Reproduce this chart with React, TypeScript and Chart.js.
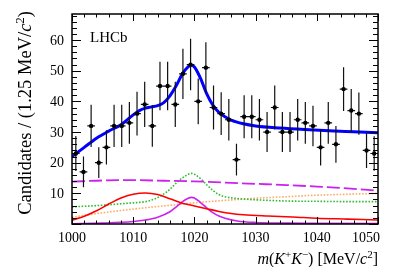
import React, { useEffect, useRef } from "react";
import { Chart, registerables } from "chart.js";

Chart.register(...registerables);

// ---------- data ----------
const binCenters = [
  1000.625, 1001.875, 1003.125, 1004.375, 1005.625, 1006.875, 1008.125, 1009.375,
  1010.625, 1011.875, 1013.125, 1014.375, 1015.625, 1016.875, 1018.125, 1019.375,
  1020.625, 1021.875, 1023.125, 1024.375, 1025.625, 1026.875, 1028.125, 1029.375,
  1030.625, 1031.875, 1033.125, 1034.375, 1035.625, 1036.875, 1038.125, 1039.375,
  1040.625, 1041.875, 1043.125, 1044.375, 1045.625, 1046.875, 1048.125, 1049.375,
];
const binHalfWidth = 0.625;
const counts = [
  23, 17, 32, 20, 25, 32, 32, 33, 36, 39, 32, 45, 45, 39, 49, 52, 40, 51, 38, 36,
  34, 21, 35, 35, 34, 30, 38, 30, 30, 34, 33, 32, 25, 33, 26, 44, 37, 36, 24, 23,
];
const countErrors = [
  5.7, 5.0, 6.9, 5.0, 5.6, 6.9, 6.9, 6.8, 7.1, 7.4, 6.8, 7.9, 7.9, 7.4, 8.2, 8.4, 7.5, 8.3, 7.2, 7.0,
  6.8, 5.2, 7.0, 7.0, 6.8, 6.5, 7.2, 6.5, 6.5, 6.8, 6.8, 6.6, 5.9, 6.8, 6.0, 7.1, 7.0, 6.9, 5.7, 5.6,
];

const totalX = [1000, 1002, 1004, 1006, 1008, 1010, 1011, 1012, 1013, 1014, 1015, 1016, 1017, 1018, 1019, 1019.5, 1020, 1021, 1022, 1023, 1024, 1025, 1026, 1028, 1030, 1034, 1038, 1042, 1046, 1050];
const totalY = [22, 25, 28, 30.3, 32.4, 35.6, 37, 37.8, 38.2, 38.6, 39.6, 41.8, 45, 48.8, 51.3, 51.8, 51.2, 47.5, 42.5, 38.8, 36.4, 35, 33.9, 32.7, 32, 31.3, 30.8, 30.4, 30.1, 29.8];

const redX = [1000, 1002, 1004, 1006, 1008, 1010, 1012, 1014, 1016, 1018, 1020, 1022, 1024, 1026, 1028, 1032, 1036, 1040, 1045, 1050];
const redY = [1.3, 2.5, 4.3, 6.5, 8.5, 9.7, 10.1, 9.6, 8.2, 6.8, 5.9, 5.0, 4.1, 3.4, 3.0, 2.6, 2.3, 1.9, 1.6, 1.3];

const phiX = [1000, 1005, 1010, 1012, 1014, 1016, 1017, 1018, 1019, 1019.5, 1020, 1021, 1022, 1023, 1024, 1025, 1027, 1030, 1035, 1040, 1050];
const phiY = [0.1, 0.3, 0.8, 1.3, 2.2, 4.0, 5.5, 7.2, 8.4, 8.7, 8.5, 7.0, 5.3, 3.7, 2.6, 1.9, 1.0, 0.5, 0.3, 0.25, 0.15];

const greenX = [1000, 1004, 1008, 1010, 1012, 1013, 1014, 1015, 1016, 1017, 1018, 1019, 1019.5, 1020, 1021, 1022, 1023, 1024, 1025, 1027, 1030, 1035, 1040, 1045, 1050];
const greenY = [5.6, 6.0, 6.6, 6.9, 7.3, 7.8, 8.6, 9.8, 11.3, 13.3, 15.0, 16.2, 16.5, 16.2, 14.8, 12.8, 11.0, 9.6, 8.9, 8.3, 7.9, 7.5, 7.4, 7.3, 7.3];

const orangeX = [1000, 1004, 1008, 1012, 1016, 1020, 1025, 1030, 1035, 1040, 1045, 1050];
const orangeY = [2.2, 3.4, 4.4, 5.3, 6.1, 6.9, 7.7, 8.4, 8.9, 9.4, 9.7, 10.0];

const dashX = [1000, 1005, 1010, 1015, 1020, 1025, 1030, 1035, 1040, 1045, 1050];
const dashY = [13.8, 14.2, 14.3, 14.1, 13.9, 13.5, 13.1, 12.7, 12.2, 11.6, 10.9];

const xTickLabels = [1000, 1010, 1020, 1030, 1040, 1050];
const yTickLabels = [10, 20, 30, 40, 50, 60];
const xRange = [1000, 1050];
const yRange = [0, 68.5];

type Run = { t: string; italic?: boolean; sup?: boolean };
const xTitle: Run[] = [
  { t: "m", italic: true }, { t: "(" }, { t: "K", italic: true }, { t: "+", sup: true },
  { t: "K", italic: true }, { t: "\u2212", sup: true }, { t: ") [MeV/" }, { t: "c", italic: true },
  { t: "2", sup: true }, { t: "]" },
];
const yTitle: Run[] = [
  { t: "Candidates / (1.25 MeV/" }, { t: "c", italic: true }, { t: "2", sup: true }, { t: ")" },
];
const labelText = "LHCb";

const SERIF = '"Liberation Serif", "Times New Roman", serif';

function pts(xs: number[], ys: number[]) {
  return xs.map((x, i) => ({ x, y: ys[i] }));
}

function drawRuns(ctx: CanvasRenderingContext2D, runs: Run[], x: number, y: number, size: number, align: "left" | "right") {
  const fontFor = (r: Run) => `${r.italic ? "italic " : ""}${r.sup ? Math.round(size * 0.68) : size}px ${SERIF}`;
  let total = 0;
  const widths: number[] = [];
  for (const r of runs) {
    ctx.font = fontFor(r);
    const w = ctx.measureText(r.t).width;
    widths.push(w);
    total += w;
  }
  let cx = align === "right" ? x - total : x;
  ctx.textAlign = "left";
  ctx.textBaseline = "alphabetic";
  runs.forEach((r, i) => {
    ctx.font = fontFor(r);
    ctx.fillText(r.t, cx, r.sup ? y - size * 0.4 : y);
    cx += widths[i];
  });
}

const framePlugin = {
  id: "rootFrame",
  beforeDatasetDraw(chart: any, args: any) {
    if (args.meta.label !== "Data") return;
    const ctx = chart.ctx as CanvasRenderingContext2D;
    const xs = chart.scales.x;
    const ys = chart.scales.y;
    ctx.save();
    ctx.strokeStyle = "#111";
    ctx.lineWidth = 1.2;
    ctx.beginPath();
    binCenters.forEach((c, i) => {
      const px = xs.getPixelForValue(c);
      const py = ys.getPixelForValue(counts[i]);
      const x0 = xs.getPixelForValue(c - binHalfWidth);
      const x1 = xs.getPixelForValue(c + binHalfWidth);
      const y0 = ys.getPixelForValue(counts[i] - countErrors[i]);
      const y1 = ys.getPixelForValue(counts[i] + countErrors[i]);
      ctx.moveTo(x0, py);
      ctx.lineTo(x1, py);
      ctx.moveTo(px, y0);
      ctx.lineTo(px, y1);
    });
    ctx.stroke();
    ctx.restore();
  },
  afterDraw(chart: any) {
    const ctx = chart.ctx as CanvasRenderingContext2D;
    const xs = chart.scales.x;
    const ys = chart.scales.y;
    const { left, right, top, bottom } = chart.chartArea;
    ctx.save();
    // frame
    ctx.strokeStyle = "#000";
    ctx.lineWidth = 1.5;
    ctx.strokeRect(left, top, right - left, bottom - top);
    // ticks
    ctx.lineWidth = 1;
    ctx.beginPath();
    for (let v = xRange[0]; v <= xRange[1] + 1e-6; v += 2) {
      const px = Math.round(xs.getPixelForValue(v)) + 0.5;
      const len = Math.abs(v % 10) < 1e-6 ? 7 : 3.5;
      ctx.moveTo(px, bottom);
      ctx.lineTo(px, bottom - len);
      ctx.moveTo(px, top);
      ctx.lineTo(px, top + len);
    }
    for (let v = yRange[0]; v <= yRange[1]; v += 2) {
      const py = Math.round(ys.getPixelForValue(v)) + 0.5;
      const len = Math.abs(v % 10) < 1e-6 ? 9 : 5;
      ctx.moveTo(left, py);
      ctx.lineTo(left + len, py);
      ctx.moveTo(right, py);
      ctx.lineTo(right - len, py);
    }
    ctx.stroke();
    // tick labels
    ctx.fillStyle = "#000";
    ctx.font = `14px ${SERIF}`;
    ctx.textBaseline = "alphabetic";
    xTickLabels.forEach((v, i) => {
      const px = xs.getPixelForValue(v);
      if (i === xTickLabels.length - 1) {
        ctx.textAlign = "right";
        ctx.fillText(String(v), px + 2, bottom + 18);
      } else {
        ctx.textAlign = "center";
        ctx.fillText(String(v), px, bottom + 18);
      }
    });
    ctx.textAlign = "right";
    ctx.textBaseline = "middle";
    yTickLabels.forEach((v) => {
      ctx.fillText(String(v), left - 8, ys.getPixelForValue(v) + 1);
    });
    // LHCb label
    ctx.textAlign = "left";
    ctx.textBaseline = "alphabetic";
    ctx.font = `15px ${SERIF}`;
    ctx.fillText(labelText, left + 18, top + 28);
    // axis titles
    drawRuns(ctx, xTitle, right, bottom + 40, 16, "right");
    ctx.translate(31, top - 3);
    ctx.rotate(-Math.PI / 2);
    drawRuns(ctx, yTitle, 0, 0, 18.5, "right");
    ctx.restore();
  },
};

function line(label: string, xs: number[], ys: number[], color: string, width: number, dash: number[], order: number) {
  return {
    label,
    type: "line" as const,
    data: pts(xs, ys),
    borderColor: color,
    backgroundColor: color,
    borderWidth: width,
    borderDash: dash,
    pointRadius: 0,
    fill: false,
    tension: 0.4,
    cubicInterpolationMode: "monotone" as const,
    order,
  };
}

export default function App() {
  const ref = useRef<HTMLCanvasElement | null>(null);
  useEffect(() => {
    document.body.style.margin = "0";
    if (!ref.current) return;
    const chart = new Chart(ref.current, {
      type: "scatter",
      data: {
        datasets: [
          {
            label: "Data",
            type: "scatter",
            data: pts(binCenters, counts),
            pointStyle: "circle",
            pointRadius: 2.2,
            pointBackgroundColor: "#000",
            pointBorderColor: "#000",
            pointBorderWidth: 0,
            order: 0,
          } as any,
          line("Total", totalX, totalY, "#0000ff", 3, [], 1),
          line("Red", redX, redY, "#ff0000", 1.6, [], 3),
          line("Phi", phiX, phiY, "#cc22ee", 1.6, [], 3),
          line("Green", greenX, greenY, "#33bb33", 1.6, [1.6, 1.6], 4),
          line("Orange", orangeX, orangeY, "#ffaa66", 1.6, [1.6, 1.6], 4),
          line("Dashed", dashX, dashY, "#cc22ee", 1.8, [13, 4], 2),
        ],
      },
      options: {
        responsive: false,
        animation: false,
        layout: { padding: { top: 14, right: 21, left: 0, bottom: 0 } },
        plugins: { legend: { display: false }, tooltip: { enabled: false }, title: { display: false } },
        scales: {
          x: {
            type: "linear",
            min: xRange[0],
            max: xRange[1],
            grid: { display: false, drawTicks: false },
            border: { display: false },
            ticks: { display: false, stepSize: 10 },
            afterFit: (s: any) => { s.height = 43; },
          },
          y: {
            type: "linear",
            min: yRange[0],
            max: yRange[1],
            grid: { display: false, drawTicks: false },
            border: { display: false },
            ticks: { display: false, stepSize: 10 },
            afterFit: (s: any) => { s.width = 72; },
          },
        },
      },
      plugins: [framePlugin],
    });
    return () => chart.destroy();
  }, []);
  return (
    <div style={{ position: "absolute", left: 0, top: 0, width: 399, height: 267, background: "#fff" }}>
      <canvas ref={ref} width={399} height={267} />
    </div>
  );
}
